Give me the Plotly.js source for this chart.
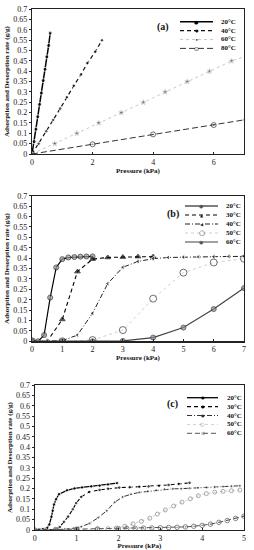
<!DOCTYPE html>
<html><head><meta charset="utf-8">
<script src="https://cdn.plot.ly/plotly-3.0.1.min.js"></script>
<style>html,body{margin:0;padding:0;background:#fff}#g{width:254px;height:550px}</style>
</head><body><div id="g"></div>
<script>
// ---------- Panel (a) ----------
const labelsA = ['20°C','40°C','60°C','80°C'];
const a20x = [0,0.07,0.13,0.19,0.25,0.31,0.37,0.43,0.49,0.55,0.6];
const a20y = [0,0.06,0.12,0.18,0.24,0.295,0.355,0.41,0.47,0.525,0.585];
const a40x = [0,0.22,0.47,0.7,0.93,1.15,1.38,1.62,1.83,2.09,2.31];
const a40y = [0,0.05,0.11,0.165,0.22,0.275,0.33,0.385,0.44,0.495,0.55];
const a60x = [0,0.75,1.48,2.2,2.95,3.68,4.4,5.13,5.86,6.59,7];
const a60y = [0,0.05,0.1,0.15,0.2,0.25,0.3,0.35,0.4,0.45,0.47];
const a80x = [0,2,4,6,7];
const a80y = [0,0.047,0.095,0.14,0.165];
// ---------- Panel (b) ----------
const labelsB = ['20°C','30°C','40°C','50°C','60°C'];
const b20x = [0,0.2,0.4,0.6,0.8,1.0,1.2,1.4,1.6,1.8,2.0];
const b20y = [0,0,0.03,0.21,0.355,0.395,0.403,0.405,0.407,0.408,0.408];
const b30x = [0,0.5,1,1.5,2,2.5,3,3.5,4];
const b30y = [0,0,0.105,0.335,0.395,0.403,0.405,0.407,0.407];
const b40x = [0,0.5,1,1.5,2,2.5,3,3.5,4,4.5,5,5.5,6,6.5,7];
const b40y = [0,0,0.003,0.03,0.135,0.277,0.356,0.384,0.397,0.403,0.405,0.406,0.407,0.408,0.408];
const b50x = [0,1,2,3,4,5,6,7];
const b50y = [0,0,0.006,0.054,0.205,0.33,0.379,0.397];
const b60x = [0,1,2,3,4,5,6,7];
const b60y = [0,0,0,0.002,0.018,0.066,0.155,0.256];
// ---------- Panel (c) ----------
const labelsC = ['20°C','30°C','40°C','50°C','60°C'];
const c20x = [0,0.1,0.2,0.3,0.35,0.4,0.43,0.46,0.51,0.58,0.77,0.95,1.13,1.35,1.55,1.75,1.97];
const c20y = [0,0.002,0.005,0.01,0.027,0.064,0.093,0.123,0.149,0.173,0.192,0.201,0.206,0.211,0.214,0.22,0.227];
const c30x = [0,0.25,0.5,0.6,0.7,0.8,0.91,0.99,1.11,1.3,1.55,1.75,2.02,2.27,2.5,2.72,2.97,3.2,3.44,3.7];
const c30y = [0,0.001,0.003,0.015,0.04,0.065,0.1,0.13,0.16,0.184,0.194,0.2,0.205,0.207,0.209,0.211,0.214,0.218,0.223,0.228];
const c40x = [0,0.5,0.72,0.92,1.11,1.31,1.52,1.72,1.91,2.1,2.3,2.5,2.7,2.9,3.1,3.3,3.5,3.7,3.9,4.1,4.3,4.5,4.7,4.9];
const c40y = [0,0.002,0.004,0.008,0.016,0.032,0.06,0.093,0.134,0.16,0.173,0.182,0.187,0.192,0.197,0.199,0.2,0.202,0.204,0.206,0.208,0.21,0.212,0.214];
const c50x = [0,0.5,1.0,1.5,1.75,1.95,2.15,2.35,2.55,2.75,2.93,3.12,3.32,3.52,3.72,3.91,4.1,4.3,4.5,4.7,4.9];
const c50y = [0,0,0.002,0.004,0.006,0.01,0.018,0.03,0.042,0.057,0.077,0.097,0.116,0.135,0.151,0.166,0.176,0.183,0.187,0.19,0.193];
const c60x = [0,0.5,1.0,1.5,2.0,2.2,2.4,2.6,2.8,3.0,3.2,3.4,3.6,3.8,4.0,4.2,4.4,4.6,4.8,5.0];
const c60y = [0,0.002,0.004,0.005,0.006,0.007,0.008,0.009,0.01,0.011,0.012,0.013,0.015,0.018,0.022,0.028,0.037,0.046,0.056,0.067];

const yTitle = 'Adsorption and Desorption rate (g/g)';
const xTitle = 'Pressure (kPa)';
const panelTags = ['(a)','(b)','(c)'];

// ---------- layout geometry (pixels) ----------
const FW = 254, FH = 550, L = 32, R = 10, T = 9, B = 20;
const PW = FW - L - R, PH = FH - T - B;
const px = v => (v - L) / PW;
const py = v => (FH - B - v) / PH;

const SERIF = 'Liberation Serif, Times New Roman, serif';

const styles = {
  a: [
    {line:{color:'#000',width:1.5,dash:'solid'}, marker:{symbol:'circle',size:4,color:'#000'}, glyph:'●', gs:5, gc:'#000'},
    {line:{color:'#111',width:1.2,dash:'4px,3px'}, marker:{symbol:'circle',size:3.5,color:'#111'}, glyph:'●', gs:4, gc:'#111'},
    {line:{color:'#c8c8c8',width:1,dash:'dot'}, marker:{symbol:'star',size:4,color:'#333'}, glyph:'•', gs:6, gc:'#333'},
    {line:{color:'#333',width:1,dash:'6px,3px'}, marker:{symbol:'circle-open-dot',size:5,color:'#333',line:{width:1}}, glyph:'⊙', gs:6, gc:'#333'}
  ],
  b: [
    {line:{color:'#000',width:1.2,dash:'solid'}, marker:{symbol:'circle',size:5,color:'#999',line:{width:1,color:'#222'}}, glyph:'◉', gs:5, gc:'#444'},
    {line:{color:'#000',width:1.1,dash:'4px,3px'}, marker:{symbol:'triangle-up',size:5,color:'#111'}, glyph:'▲', gs:4, gc:'#111'},
    {line:{color:'#222',width:1,dash:'5px,2px,1px,2px'}, marker:{symbol:'triangle-left',size:5,color:'#222'}, glyph:'◀', gs:4, gc:'#222'},
    {line:{color:'#cfcfcf',width:1,dash:'dot'}, marker:{symbol:'circle-open',size:7,color:'#333',line:{width:1}}, glyph:'○', gs:7, gc:'#333'},
    {line:{color:'#444',width:1.2,dash:'solid'}, marker:{symbol:'circle',size:5,color:'#888',line:{width:1,color:'#333'}}, glyph:'◉', gs:5, gc:'#444'}
  ],
  c: [
    {line:{color:'#000',width:1.3,dash:'solid'}, marker:{symbol:'circle',size:3.5,color:'#000'}, glyph:'●', gs:4, gc:'#000'},
    {line:{color:'#000',width:1.1,dash:'4px,3px'}, marker:{symbol:'circle',size:3.5,color:'#000'}, glyph:'●', gs:4, gc:'#000'},
    {line:{color:'#333',width:1,dash:'5px,2px,1px,2px'}, marker:{symbol:'circle',size:3,color:'#333'}, glyph:'●', gs:4, gc:'#333'},
    {line:{color:'#cfcfcf',width:1,dash:'dot'}, marker:{symbol:'circle-open',size:4,color:'#888',line:{width:1}}, glyph:'○', gs:5, gc:'#888'},
    {line:{color:'#555',width:1,dash:'5px,3px'}, marker:{symbol:'circle-open-dot',size:4.5,color:'#555',line:{width:1}}, glyph:'⊙', gs:5, gc:'#555'}
  ]
};

const data = [];
function addSeries(xs, ys, name, st, axN, xmax) {
  const ax = axN === 1 ? '' : String(axN);
  data.push({
    x: xs, y: ys, name: name, type: 'scatter', mode: 'lines+markers',
    xaxis: 'x' + ax, yaxis: 'y' + ax, showlegend: false, cliponaxis: true,
    line: st.line,
    marker: Object.assign({}, st.marker, {size: xs.map(v => v >= xmax ? 0 : st.marker.size)})
  });
}
[[a20x,a20y],[a40x,a40y],[a60x,a60y],[a80x,a80y]].forEach((s,i)=>addSeries(s[0],s[1],labelsA[i],styles.a[i],1,7));
[[b20x,b20y],[b30x,b30y],[b40x,b40y],[b50x,b50y],[b60x,b60y]].forEach((s,i)=>addSeries(s[0],s[1],labelsB[i],styles.b[i],2,99));
[[c20x,c20y],[c30x,c30y],[c40x,c40y],[c50x,c50y],[c60x,c60y]].forEach((s,i)=>addSeries(s[0],s[1],labelsC[i],styles.c[i],3,99));

function yaxis(dom) {
  return {
    domain: dom, range: [0, 0.7], dtick: 0.05, tick0: 0,
    showline: true, linecolor: '#222', linewidth: 1.2, mirror: true,
    ticks: 'outside', ticklen: 2, tickwidth: 1, tickcolor: '#222',
    showgrid: false, zeroline: false,
    tickfont: {family: SERIF, size: 8, color: '#222'},
    title: {text: yTitle, standoff: 2, font: {family: SERIF, size: 7, color: '#111', weight: 'bold'}},
    automargin: false, fixedrange: true
  };
}
function xaxis(dom, rng, dt, anchor) {
  return {
    domain: dom, range: rng, dtick: dt, tick0: 0, anchor: anchor,
    showline: true, linecolor: '#222', linewidth: 1.2, mirror: true,
    ticks: 'inside', ticklen: 2, tickwidth: 1, tickcolor: '#222',
    showgrid: false, zeroline: false,
    tickfont: {family: SERIF, size: 8, color: '#222'},
    title: {text: xTitle, standoff: 0, font: {family: SERIF, size: 7, color: '#111', weight: 'bold'}},
    automargin: false, fixedrange: true
  };
}

const shapes = [], annotations = [];
function drawLegend(labels, sts, x0, x1, xt, y0, dy, tag, tagx, tagy) {
  labels.forEach((lab, i) => {
    const y = y0 + i * dy;
    const st = sts[i];
    shapes.push({type: 'line', xref: 'paper', yref: 'paper', x0: px(x0), x1: px(x1), y0: py(y), y1: py(y),
      line: {color: st.line.color, width: st.line.width, dash: st.line.dash}});
    annotations.push({xref: 'paper', yref: 'paper', x: px((x0 + x1) / 2), y: py(y), text: st.glyph, showarrow: false,
      xanchor: 'center', yanchor: 'middle', font: {family: 'DejaVu Sans', size: st.gs, color: st.gc}});
    annotations.push({xref: 'paper', yref: 'paper', x: px(xt), y: py(y), text: lab, showarrow: false,
      xanchor: 'left', yanchor: 'middle', font: {family: SERIF, size: 7, color: '#111', weight: 'bold'}});
  });
  annotations.push({xref: 'paper', yref: 'paper', x: px(tagx), y: py(tagy), text: tag, showarrow: false,
    xanchor: 'center', yanchor: 'middle', font: {family: SERIF, size: 10, color: '#111', weight: 'bold'}});
}
drawLegend(labelsA, styles.a, 180, 213, 219, 21.7, 8.9, panelTags[0], 163, 27);
drawLegend(labelsB, styles.b, 185, 218, 224, 206, 9, panelTags[1], 173, 214);
drawLegend(labelsC, styles.c, 187, 218, 225, 397.7, 8.9, panelTags[2], 172, 404);

const layout = {
  width: FW, height: FH, margin: {l: L, r: R, t: T, b: B, pad: 0},
  paper_bgcolor: '#fff', plot_bgcolor: '#fff', showlegend: false,
  xaxis: xaxis([0, 1], [0, 7], 2, 'y'),
  yaxis: yaxis([py(154), py(9.3)]),
  xaxis2: xaxis([0, 1], [0, 7], 1, 'y2'),
  yaxis2: Object.assign(yaxis([py(341.3), py(195.7)]), {anchor: 'x2'}),
  xaxis3: xaxis([px(34.7), 1], [0, 5], 1, 'y3'),
  yaxis3: Object.assign(yaxis([py(530), py(385.3)]), {anchor: 'x3'}),
  shapes: shapes, annotations: annotations
};
layout.yaxis.anchor = 'x';
Plotly.newPlot('g', data, layout, {displayModeBar: false, staticPlot: true});
</script></body></html>
